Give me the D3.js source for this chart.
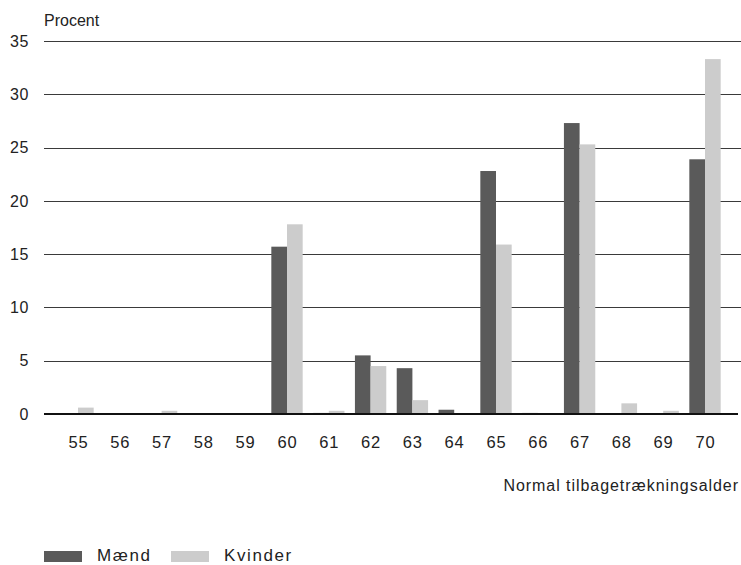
<!DOCTYPE html>
<html>
<head>
<meta charset="utf-8">
<script src="https://cdn.jsdelivr.net/npm/d3@7"></script>
<style>
  html, body { margin: 0; padding: 0; background: #fff; }
  svg text { font-family: "Liberation Sans", Arial, sans-serif; fill: #222; }
</style>
</head>
<body>
<svg id="chart" width="741" height="565"></svg>
<script>
// Retirement age categories and shares (percent) by sex
const ages = ["55","56","57","58","59","60","61","62","63","64","65","66","67","68","69","70"];
const maend   = [0, 0, 0, 0, 0, 15.7, 0.1, 5.5, 4.3, 0.4, 22.8, 0.1, 27.3, 0, 0, 23.9];
const kvinder = [0.6, 0, 0.3, 0, 0, 17.8, 0.3, 4.5, 1.3, 0, 15.9, 0, 25.3, 1.0, 0.3, 33.3];
const seriesNames = ["Mænd", "Kvinder"];
const seriesColors = ["#5a5a5a", "#cccccc"];
const yTicks = [0, 5, 10, 15, 20, 25, 30, 35];

const svg = d3.select("#chart");
const gridLeft = 44, gridRight = 741;

const x = d3.scaleBand()
  .domain(ages)
  .range([57.1, 725.9])
  .paddingInner(0.25)
  .paddingOuter(0.125);

const xSub = d3.scaleBand()
  .domain(seriesNames)
  .range([0, x.bandwidth()]);

const y = d3.scaleLinear().domain([0, 35]).range([414, 41]);

// Horizontal gridlines
svg.append("g")
  .selectAll("line")
  .data(yTicks.filter(d => d !== 0))
  .join("line")
  .attr("x1", gridLeft).attr("x2", gridRight)
  .attr("y1", d => Math.round(y(d)) + 0.5)
  .attr("y2", d => Math.round(y(d)) + 0.5)
  .attr("stroke", "#3a3a3a")
  .attr("stroke-width", 1);

// Y tick labels
svg.append("g")
  .selectAll("text")
  .data(yTicks)
  .join("text")
  .attr("x", 29)
  .attr("y", d => y(d))
  .attr("dy", "0.36em")
  .attr("text-anchor", "end")
  .attr("font-size", 16)
  .attr("letter-spacing", 0.6)
  .text(d => d);

svg.append("text")
  .attr("x", 44).attr("y", 26)
  .attr("font-size", 16)
  .text("Procent");

// Bars
const rows = ages.map((a, i) => ({ age: a, values: [maend[i], kvinder[i]] }));
const groups = svg.append("g")
  .selectAll("g")
  .data(rows)
  .join("g")
  .attr("transform", d => `translate(${x(d.age)},0)`);

groups.selectAll("rect")
  .data(d => d.values.map((v, j) => ({ name: seriesNames[j], value: v, color: seriesColors[j] })))
  .join("rect")
  .attr("x", d => xSub(d.name))
  .attr("width", xSub.bandwidth())
  .attr("y", d => y(d.value))
  .attr("height", d => y(0) - y(d.value))
  .attr("fill", d => d.color);

// Zero baseline
svg.append("line")
  .attr("x1", gridLeft).attr("x2", 738)
  .attr("y1", y(0)).attr("y2", y(0))
  .attr("stroke", "#111")
  .attr("stroke-width", 2);

// X tick labels
svg.append("g")
  .selectAll("text")
  .data(ages)
  .join("text")
  .attr("x", d => x(d) + x.bandwidth() / 2 + 0.4)
  .attr("y", 442)
  .attr("dy", "0.36em")
  .attr("text-anchor", "middle")
  .attr("font-size", 16.5)
  .attr("letter-spacing", 0.8)
  .text(d => d);

svg.append("text")
  .attr("x", 739).attr("y", 485)
  .attr("dy", "0.36em")
  .attr("text-anchor", "end")
  .attr("font-size", 16)
  .attr("letter-spacing", 0.95)
  .text("Normal tilbagetrækningsalder");

// Legend
const legendItems = [
  { name: seriesNames[0], color: seriesColors[0], sx: 44, tx: 97 },
  { name: seriesNames[1], color: seriesColors[1], sx: 171, tx: 224 }
];
const lg = svg.append("g");
lg.selectAll("rect")
  .data(legendItems)
  .join("rect")
  .attr("x", d => d.sx).attr("y", 551)
  .attr("width", 38).attr("height", 11)
  .attr("fill", d => d.color);
lg.selectAll("text")
  .data(legendItems)
  .join("text")
  .attr("x", d => d.tx).attr("y", 554.5)
  .attr("dy", "0.36em")
  .attr("font-size", 17)
  .attr("letter-spacing", 1.6)
  .text(d => d.name);
</script>
</body>
</html>
